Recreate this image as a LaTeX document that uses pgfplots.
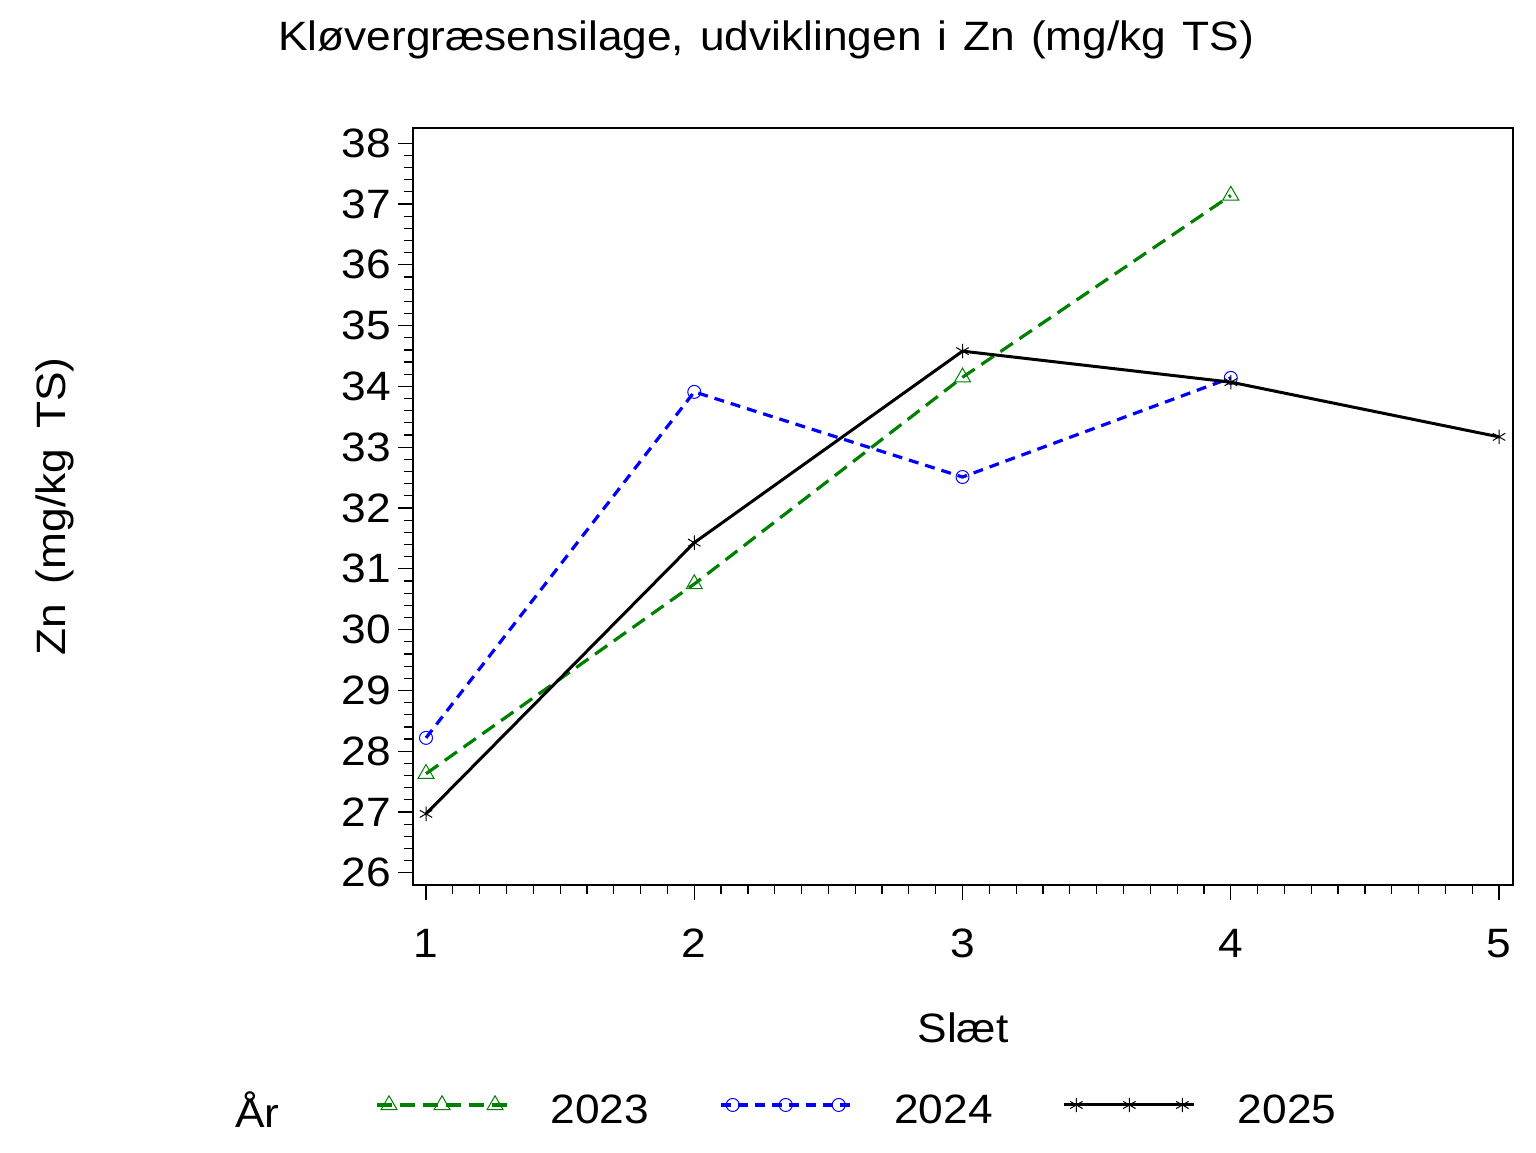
\documentclass[border=0pt]{standalone}
\usepackage{pgfplots}
\pgfplotsset{compat=1.18}
\usepackage{fontspec}
\setmainfont{Liberation Sans}[FakeStretch=1.08]
\setsansfont{Liberation Sans}[FakeStretch=1.08]
\definecolor{sasgreen}{RGB}{0,128,0}
\definecolor{sasblue}{RGB}{0,0,255}
\newcommand{\bigf}{\fontsize{20.5}{24}\selectfont}
\begin{document}
\begin{tikzpicture}
\useasboundingbox (-206.5pt,-133.5pt) rectangle (561.5pt,442.5pt);
\begin{axis}[
  at={(0,0)}, anchor=south west,
  scale only axis, width=550pt, height=378.5pt,
  clip mode=individual,
  xmin=0.9515, xmax=5.052, ymin=25.8, ymax=38.25,
  xtick={1,2,3,4,5}, ytick={26,27,...,38},
  minor x tick num=9, minor y tick num=4,
  tick align=outside, tick pos=left,
  major tick length=7.5pt, minor tick length=4.5pt,
  every tick/.style={black, line width=0.6pt},
  axis line style={line width=0.6pt},
  /pgf/number format/assume math mode=true,
  ticklabel style={font=\bigf},
  xticklabel style={yshift=-11pt},
  xlabel={Slæt},
  ylabel={Zn\hspace{10pt}(mg/kg\hspace{10pt}TS)},
  every axis x label/.style={at={(axis description cs:0.5,-0.2074)}, anchor=base, font=\bigf},
  every axis y label/.style={at={(axis description cs:-0.3255,0.5)}, rotate=90, anchor=center, font=\bigf},
  legend columns=-1,
  legend style={draw=none, fill=none, at={(axis description cs:-0.0345,-0.2985)}, anchor=west, inner sep=0pt, font=\bigf,
    /tikz/every odd column/.append style={column sep=19pt},
    /tikz/every even column/.append style={column sep=33pt}},
  legend image code/.code={\draw[#1, mark indices={2,3,4}] plot coordinates {(0pt,3pt) (6pt,3pt) (32.5pt,3pt) (59pt,3pt) (65pt,3pt)};},
]
\addplot[color=sasgreen, line width=1.6pt, dash pattern=on 7.5pt off 4pt, mark=triangle, mark size=4.6pt, mark options={solid, line width=0.5pt}]
  coordinates {(1,27.63) (2,30.75) (3,34.15) (4,37.14)};
\addlegendentry{2023}
\addplot[color=sasblue, line width=1.6pt, dash pattern=on 5pt off 3.5pt, mark=o, mark size=3.25pt, mark options={solid, line width=0.5pt}]
  coordinates {(1,28.22) (2,33.91) (3,32.51) (4,34.14)};
\addlegendentry{2024}
\addplot[color=black, line width=1.5pt, mark=asterisk, mark size=3.6pt, mark options={solid, line width=0.5pt}]
  coordinates {(1,26.97) (2,31.43) (3,34.58) (4,34.07) (5,33.17)};
\addlegendentry{2025}
\node[anchor=base west, font=\bigf, inner sep=0pt] at (axis description cs:-0.1618,-0.3197) {År};
\node[anchor=base, font=\bigf, inner sep=0pt] at (axis description cs:0.321,1.103) {Kløvergræsensilage,\hspace{8pt}udviklingen\hspace{8pt}i\hspace{8pt}Zn\hspace{8pt}(mg/kg\hspace{8pt}TS)};
\end{axis}
\end{tikzpicture}
\end{document}
